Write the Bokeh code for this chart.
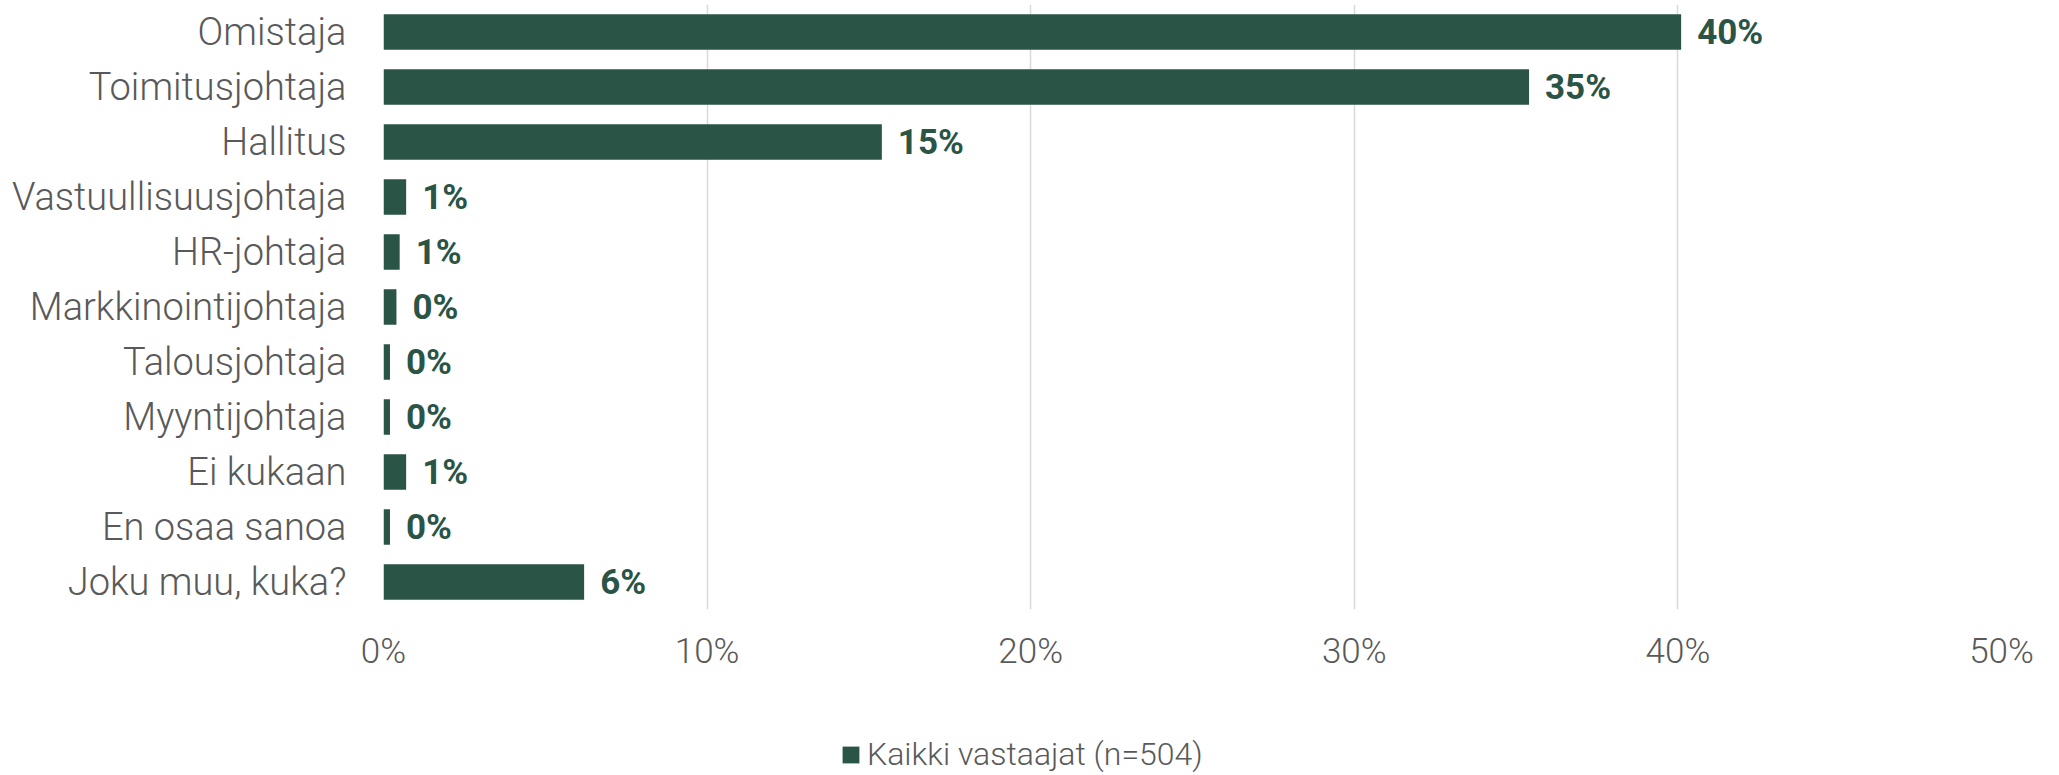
from bokeh.plotting import figure
from bokeh.layouts import column
from bokeh.models import FactorRange, Range1d, FixedTicker, Legend, LegendItem, ColumnDataSource
from bokeh.core.properties import value
from bokeh.embed import file_html
from bokeh.resources import INLINE

categories = ["Omistaja", "Toimitusjohtaja", "Hallitus", "Vastuullisuusjohtaja", "HR-johtaja",
              "Markkinointijohtaja", "Talousjohtaja", "Myyntijohtaja", "Ei kukaan",
              "En osaa sanoa", "Joku muu, kuka?"]
values = [40.1, 35.4, 15.4, 0.7, 0.5, 0.4, 0.2, 0.2, 0.7, 0.2, 6.2]
value_labels = ["40%", "35%", "15%", "1%", "1%", "0%", "0%", "0%", "1%", "0%", "6%"]
tick_values = [0, 10, 20, 30, 40, 50]
tick_labels = ["0%", "10%", "20%", "30%", "40%", "50%"]
series_name = "Kaikki vastaajat (n=504)"

GREEN = "#2a5446"
GRAY = "#595959"
LIGHT = "Roboto Light"

src = ColumnDataSource(dict(cat=categories, val=values, lab=value_labels))

p = figure(width=2043, height=715, output_backend="svg", toolbar_location=None,
           y_range=FactorRange(factors=categories[::-1], range_padding=0),
           x_range=Range1d(0, 50),
           min_border_left=383, min_border_right=42, min_border_top=4, min_border_bottom=106)
p.outline_line_color = None
p.background_fill_color = "white"
p.border_fill_color = "white"

r = p.hbar(y="cat", left=0, right="val", height=0.645, source=src,
           fill_color=GREEN, line_color=None)

p.text(x="val", y="cat", text="lab", source=src, x_offset=16,
       text_baseline="middle", text_align="left",
       text_font=value("Roboto"), text_font_style="bold", text_font_size="35px",
       text_color=GREEN)

p.ygrid.grid_line_color = None
p.xgrid.grid_line_color = "#d9d9d9"
p.xgrid.grid_line_width = 1.5
p.xaxis.ticker = FixedTicker(ticks=tick_values)
p.xaxis.major_label_overrides = {t: l for t, l in zip(tick_values, tick_labels)}

for ax in (p.xaxis, p.yaxis):
    ax.axis_line_color = None
    ax.major_tick_line_color = None
    ax.minor_tick_line_color = None
    ax.major_tick_out = 0
    ax.major_tick_in = 0
    ax.major_label_text_color = GRAY
    ax.major_label_text_font = LIGHT

p.yaxis.major_label_text_font_size = "38px"
p.yaxis.major_label_standoff = 37
p.xaxis.major_label_text_font_size = "35px"
p.xaxis.major_label_standoff = 21

# legend strip below the chart (proxy renderer: zero-height bars, outside the visible x range)
lg = figure(width=2043, height=58, output_backend="svg", toolbar_location=None,
            x_axis_type=None, y_axis_type=None,
            x_range=Range1d(100, 101), y_range=FactorRange(factors=categories[::-1]),
            min_border=0)
lg.outline_line_color = None
lg.xgrid.visible = False
lg.ygrid.visible = False
lg.border_fill_color = "white"
lr = lg.hbar(y="cat", left=0, right="val", height=0, source=src,
             fill_color=GREEN, line_color=None)
legend = Legend(items=[LegendItem(label=series_name, renderers=[lr])],
                location=(457, 0), orientation="horizontal",
                border_line_color=None, background_fill_alpha=0,
                padding=0, margin=0, glyph_width=21, glyph_height=21, label_standoff=6,
                label_text_font=LIGHT, label_text_font_size="32px", label_text_color=GRAY)
lg.add_layout(legend, "center")

layout = column(p, lg, spacing=0)
open("out.html", "w").write(file_html(layout, INLINE))
